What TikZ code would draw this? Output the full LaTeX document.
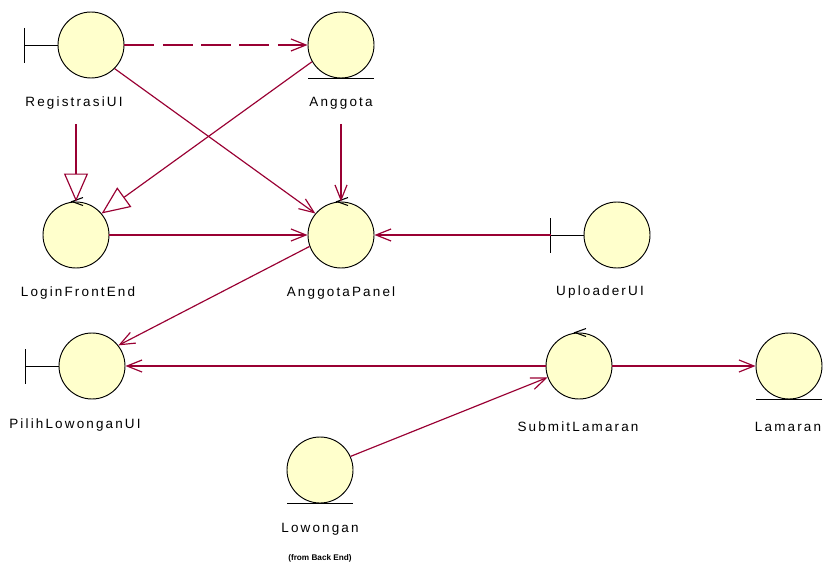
\documentclass[tikz,border=0pt]{standalone}
\usepackage{fontspec}
\setmainfont{Liberation Sans}[LetterSpace=16]
\usetikzlibrary{arrows.meta}
\definecolor{assoc}{RGB}{153,0,51}
\definecolor{robust}{RGB}{255,255,204}

\begin{document}
\begin{tikzpicture}[x=0.03cm,y=-0.03cm,
    obj/.style={circle,draw=black,line width=0.8pt,fill=robust,minimum size=1.98cm,inner sep=0pt},
    objlbl/.style={font=\fontsize{11.5}{13}\selectfont,inner sep=1pt},
    link/.style={draw=assoc,line width=1pt,-{Straight Barb[length=4.5mm,width=3.6mm]}},
    gen/.style={draw=assoc,line width=1pt,-{Triangle[open,fill=white,length=8.4mm,width=7.2mm]}}]
    \useasboundingbox (0,0) rectangle (824,568);

    % robustness objects
    \node[obj] (reg) at (91,45) {};
    \node[obj] (ang) at (341,45) {};
    \node[obj] (lfe) at (76,235) {};
    \node[obj] (ap)  at (341,235) {};
    \node[obj] (up)  at (617,235) {};
    \node[obj] (pl)  at (92,366) {};
    \node[obj] (sl)  at (579,366) {};
    \node[obj] (lam) at (789,366) {};
    \node[obj] (low) at (320,470) {};

    \node[objlbl] (reglbl) at (74,103) {RegistrasiUI};
    \node[objlbl] (anglbl) at (341,103) {Anggota};
    \node[objlbl] (lfelbl) at (78,293) {LoginFrontEnd};
    \node[objlbl] (aplbl)  at (341,293) {AnggotaPanel};
    \node[objlbl] (uplbl)  at (600,292) {UploaderUI};
    \node[objlbl] (pllbl)  at (75,425) {PilihLowonganUI};
    \node[objlbl] (sllbl)  at (578,427) {SubmitLamaran};
    \node[objlbl] (lamlbl) at (788,427) {Lamaran};
    \node[objlbl] (lowlbl) at (320,529) {Lowongan};
    \node[objlbl,font=\fontsize{7}{8}\selectfont\bfseries\addfontfeature{LetterSpace=0}] (fromlbl) at (320,558) {(from Back End)};

    % boundary, entity and control marks
    \foreach \n in {reg,up,pl}{
      \draw[line width=0.8pt] (\n.west) -- ++(-33,0) coordinate (\n bar);
      \draw[line width=0.8pt] (\n bar) ++(0,-17) -- ++(0,35);
    }
    \foreach \n in {ang,lam,low}
      \draw[line width=0.8pt] (\n.south) ++(-33,0) -- ++(66,0);
    \foreach \n in {lfe,ap,sl}
      \draw[line width=0.9pt] (\n.north) ++(7,-4) -- ++(-11,4) -- ++(11,4);

    % connectors
    \draw[link,dash pattern=on 9mm off 2.5mm] (reg) -- (ang);
    \draw[link] (reg.-45) -- (ap.140);
    \draw[gen,shorten <=4mm] (reglbl.south -| lfe.north) -- (lfe.north);
    \draw[gen] (ang.210) -- (lfe.40);
    \draw[link,shorten <=4mm] (anglbl.south) -- (ap.north);
    \draw[link] (lfe) -- (ap);
    \draw[link] (upbar) -- (ap.east);
    \draw[link] (ap.200) -- (pl.38);
    \draw[link] (sl) -- (pl);
    \draw[link] (low.24) -- (sl.200);
    \draw[link] (sl) -- (lam);
\end{tikzpicture}
\end{document}
